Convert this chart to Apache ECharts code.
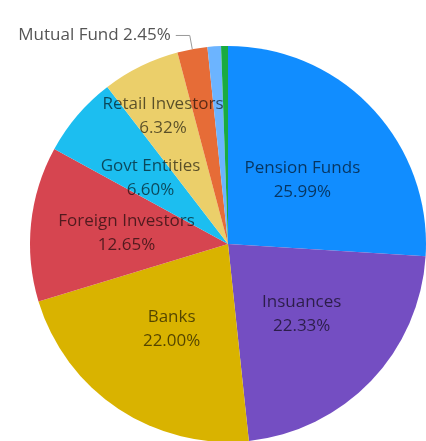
<!DOCTYPE html>
<html>
<head>
<meta charset="utf-8">
<script src="https://cdn.jsdelivr.net/npm/echarts@6/dist/echarts.min.js"></script>
<style>
html,body{margin:0;padding:0;background:#fff;}
#main{width:426px;height:441px;}
</style>
</head>
<body>
<div id="main"></div>
<script>
const categories = ['Pension Funds','Insuances','Banks','Foreign Investors','Govt Entities','Retail Investors','Mutual Fund','Other A','Other B'];
const shares = [25.99, 22.33, 22.00, 12.65, 6.60, 6.32, 2.45, 1.10, 0.56];
const colors = ['#118DFF','#744EC2','#D9B300','#D64550','#1CBEF0','#EBCF6A','#E66C37','#6CB4FF','#1AAB40'];
const outsideLabels = ['Mutual Fund'];
const hiddenLabels = ['Other A','Other B'];

const data = categories.map((c, i) => {
  const item = { name: c, value: shares[i], itemStyle: { color: colors[i] } };
  if (outsideLabels.includes(c)) {
    item.label = { show: true, position: 'outside', formatter: '{b} {d}%', color: '#555555', fontSize: 17, lineHeight: 22 };
    item.labelLine = { show: true, length: 14, length2: 14, lineStyle: { color: '#9A9A9A', width: 1 } };
  } else if (hiddenLabels.includes(c)) {
    item.label = { show: false };
    item.labelLine = { show: false };
  }
  return item;
});

const chart = echarts.init(document.getElementById('main'), null, { renderer: 'canvas' });
chart.setOption({
  animation: false,
  series: [{
    type: 'pie',
    center: [228, 244],
    radius: [0, 198],
    startAngle: 90,
    clockwise: true,
    avoidLabelOverlap: false,
    data: data,
    label: {
      show: true,
      position: 'inside',
      fontFamily: "'Segoe UI', 'Open Sans', sans-serif",
      fontSize: 17,
      lineHeight: 24,
      color: 'rgba(0,0,0,0.62)',
      formatter: function (p) { return p.name + '\n' + p.value.toFixed(2) + '%'; }
    },
    labelLine: { show: false },
    labelLayout: function (params) {
      if (params.dataIndex === 5) { return { dx: -20, dy: -36 }; }
      if (params.dataIndex === 0) { return { dy: 6 }; }
      return {};
    }
  }]
});
</script>
</body>
</html>
